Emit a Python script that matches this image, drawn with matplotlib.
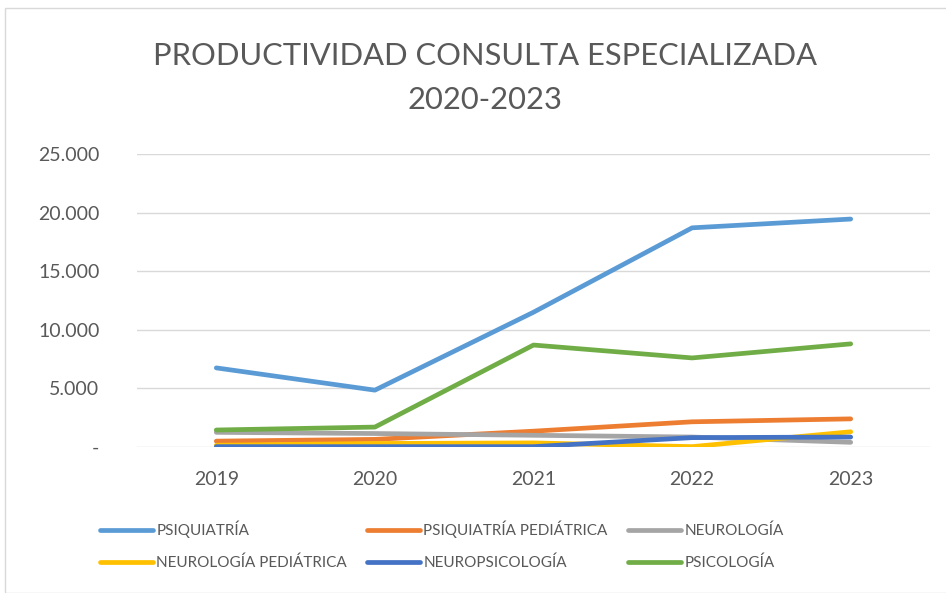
import matplotlib
matplotlib.use("Agg")
import matplotlib.pyplot as plt
from matplotlib.patches import Rectangle
from matplotlib.ticker import FuncFormatter

years = ["2019", "2020", "2021", "2022", "2023"]
psiquiatria = [6750, 4850, 11500, 18700, 19450]
psiquiatria_ped = [500, 650, 1350, 2150, 2400]
neurologia = [1250, 1150, 1000, 850, 400]
neurologia_ped = [150, 300, 350, 30, 1300]
neuropsicologia = [30, 30, 30, 800, 850]
psicologia = [1450, 1700, 8700, 7600, 8800]

labels = ["PSIQUIATRÍA", "PSIQUIATRÍA PEDIÁTRICA", "NEUROLOGÍA",
          "NEUROLOGÍA PEDIÁTRICA", "NEUROPSICOLOGÍA", "PSICOLOGÍA"]
colors = ["#5B9BD5", "#ED7D31", "#A5A5A5", "#FFC000", "#4472C4", "#70AD47"]
series = [psiquiatria, psiquiatria_ped, neurologia, neurologia_ped, neuropsicologia, psicologia]

plt.rcParams['font.family'] = ['Lato', 'DejaVu Sans']

fig = plt.figure(figsize=(9.46, 5.93), dpi=100)
fig.patches.append(Rectangle((5/946, 0), 1, 1 - 8/593, transform=fig.transFigure,
                             fill=False, edgecolor="#D9D9D9", linewidth=1))
ax = fig.add_axes([137/946, 1 - 447/593, (930 - 137)/946, (447 - 154)/593])

x = list(range(len(years)))
handles = []
for s, lab, c in zip(series, labels, colors):
    h, = ax.plot(x, s, color=c, linewidth=3.4, label=lab, solid_capstyle="round")
    handles.append(h)

ax.set_xlim(-0.5, len(years) - 0.5)
ax.set_ylim(0, 25000)
ax.set_yticks([0, 5000, 10000, 15000, 20000, 25000])
ax.yaxis.set_major_formatter(FuncFormatter(
    lambda v, p: "-" if v == 0 else f"{int(v):,}".replace(",", ".")))
ax.set_xticks(x)
ax.set_xticklabels(years)
ax.tick_params(axis="x", length=0, labelsize=14, colors="#595959", pad=17)
ax.tick_params(axis="y", length=0, labelsize=14, colors="#595959", pad=27)
ax.grid(axis="y", color="#D9D9D9", linewidth=1)
ax.set_axisbelow(True)
for sp in ax.spines.values():
    sp.set_visible(False)

fig.text(485/946, 1 - 56/593, "PRODUCTIVIDAD CONSULTA ESPECIALIZADA", ha="center", va="center",
         fontsize=22.2, color="#595959")
fig.text(485/946, 1 - 100/593, "2020-2023", ha="center", va="center",
         fontsize=22.2, color="#595959")

order = [0, 3, 1, 4, 2, 5]
leg = fig.legend([handles[i] for i in order], [labels[i] for i in order], ncol=3,
                 loc="upper left", bbox_to_anchor=(86/946, 1 - 507/593),
                 frameon=False, fontsize=11, handlelength=3.5, handletextpad=0.2,
                 columnspacing=1.3, labelspacing=1.15, labelcolor="#595959")

fig.savefig("out.png", dpi=100)
